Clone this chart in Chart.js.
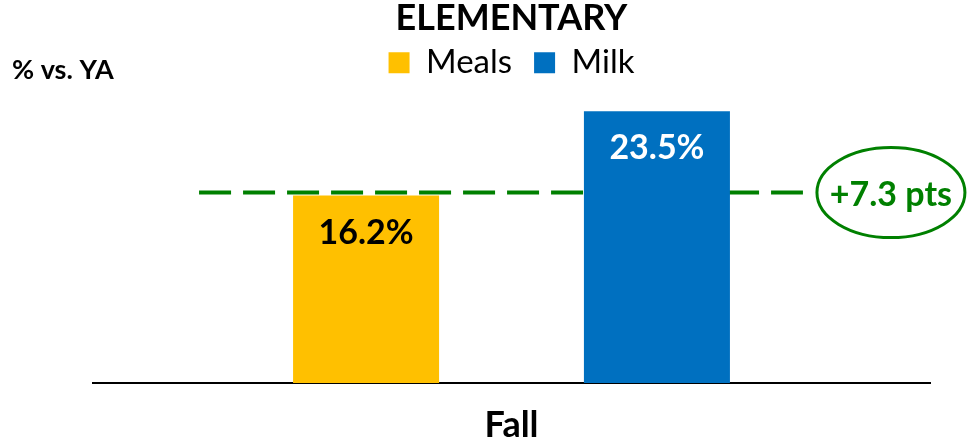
<!DOCTYPE html>
<html>
<head>
<meta charset="utf-8">
<script src="https://cdn.jsdelivr.net/npm/chart.js@4/dist/chart.umd.min.js"></script>
<style>
  html, body { margin: 0; padding: 0; background: #fff; }
  #wrap { width: 967px; height: 444px; }
</style>
</head>
<body>
<div id="wrap"><canvas id="elementaryChart" width="967" height="444"></canvas></div>
<script>
// chart data
var categories = ["Fall"];
var seriesNames = ["Meals", "Milk"];
var mealsValues = [16.2];
var milkValues = [23.5];
var seriesColors = ["#FFC000", "#0070C0"];
var labelColors = ["#000000", "#FFFFFF"];
var chartTitle = "ELEMENTARY";
var axisNote = "% vs. YA";

var fontFamily = "Lato, 'Open Sans', sans-serif";
var green = "#008000";

/**
 *  Draws the note, the dashed reference line, the value labels and the gap callout.
 */
var overlayPlugin = {
    id: 'overlay',
    beforeDatasetsDraw: function(chart) {
        const ctx = chart.ctx;
        const y = chart.scales.y.getPixelForValue(mealsValues[0]) - 3;
        const meals = chart.getDatasetMeta(0).data[0];
        const milk = chart.getDatasetMeta(1).data[0];
        const startX = meals.x - meals.width / 2 - 94;
        const endX = milk.x + milk.width / 2 + 73;
        ctx.save();
        ctx.strokeStyle = green;
        ctx.lineWidth = 4;
        ctx.setLineDash([32, 12]);
        ctx.beginPath();
        ctx.moveTo(startX, y);
        ctx.lineTo(endX, y);
        ctx.stroke();
        ctx.restore();
    },
    afterDatasetsDraw: function(chart) {
        const ctx = chart.ctx;
        ctx.save();
        // value labels inside the bars
        ctx.font = "bold 34px " + fontFamily;
        ctx.textAlign = "center";
        ctx.textBaseline = "middle";
        chart.data.datasets.forEach(function(ds, i) {
            const bar = chart.getDatasetMeta(i).data[0];
            ctx.fillStyle = labelColors[i];
            ctx.fillText(ds.data[0].toFixed(1) + "%", bar.x, bar.y + 37);
        });

        // callout with the gap in points
        const y = chart.scales.y.getPixelForValue(mealsValues[0]) - 3;
        const milk = chart.getDatasetMeta(1).data[0];
        const cx = milk.x + milk.width / 2 + 161;
        ctx.strokeStyle = green;
        ctx.lineWidth = 3;
        ctx.beginPath();
        ctx.ellipse(cx, y, 74, 45, 0, 0, Math.PI * 2);
        ctx.stroke();
        const gap = milkValues[0] - mealsValues[0];
        ctx.fillStyle = green;
        ctx.font = "bold 34px " + fontFamily;
        ctx.fillText("+" + gap.toFixed(1) + " pts", cx, y + 2);

        // axis note top left
        ctx.fillStyle = "#000";
        ctx.textAlign = "left";
        ctx.font = "bold 27px " + fontFamily;
        ctx.fillText(axisNote, 12, 70);
        ctx.restore();
    }
};

new Chart(document.getElementById('elementaryChart').getContext('2d'), {
    type: 'bar',
    data: {
        labels: categories,
        datasets: [{
            label: seriesNames[0],
            data: mealsValues,
            backgroundColor: seriesColors[0],
            categoryPercentage: 0.695,
            barPercentage: 0.502
        }, {
            label: seriesNames[1],
            data: milkValues,
            backgroundColor: seriesColors[1],
            categoryPercentage: 0.695,
            barPercentage: 0.502
        }]
    },
    options: {
        responsive: false,
        devicePixelRatio: 1,
        animation: false,
        layout: { padding: { left: 93, right: 37, top: 0, bottom: 0 } },
        plugins: {
            title: {
                display: true,
                text: chartTitle,
                color: '#000',
                font: { family: fontFamily, size: 36, weight: 'bold' },
                padding: { top: -3, bottom: -16 }
            },
            legend: {
                display: true,
                labels: {
                    color: '#000',
                    font: { family: fontFamily, size: 33 },
                    boxWidth: 21,
                    boxHeight: 21,
                    padding: 22
                }
            },
            tooltip: { enabled: false }
        },
        scales: {
            x: {
                grid: { display: false, drawTicks: false },
                border: { display: true, color: '#000', width: 2 },
                ticks: {
                    color: '#000',
                    padding: 21,
                    font: { family: fontFamily, size: 36, weight: 'bold' }
                },
                afterFit: function(scale) {
                    scale.height = 61;
                }
            },
            y: {
                display: false,
                min: 0,
                max: 25.4
            }
        }
    },
    plugins: [overlayPlugin]
});
</script>
</body>
</html>
